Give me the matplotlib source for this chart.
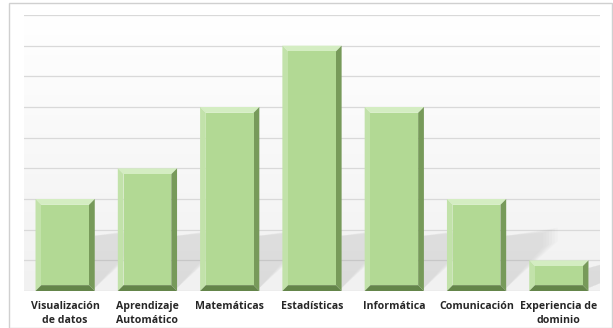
import matplotlib.pyplot as plt
import numpy as np
from matplotlib.patches import Polygon, Rectangle

categorias = ["Visualización\nde datos", "Aprendizaje\nAutomático", "Matemáticas",
              "Estadísticas", "Informática", "Comunicación", "Experiencia de\ndominio"]
valores = [3, 4, 6, 8, 6, 3, 1]

cara = "#b2d994"
borde_sup = "#d4edc2"
borde_izq = "#c2e2aa"
borde_der = "#779a5a"
borde_inf = "#64854a"

fig = plt.figure(figsize=(6.13, 3.28), dpi=100)
fig.patch.set_facecolor("white")
# marco del gráfico
fig.patches.append(Rectangle((9 / 613, 0), 603 / 613, 325 / 328, transform=fig.transFigure,
                             fill=False, edgecolor="#d0d0d0", lw=1))

ax = fig.add_axes([24 / 613, 37 / 328, 576 / 613, 276 / 328])
ax.set_xlim(-0.5, len(valores) - 0.5)
ax.set_ylim(0, 9)

# fondo con degradado suave hacia abajo
grad = np.linspace(0.91, 1.0, 256).reshape(-1, 1) ** 0.6
ax.imshow(np.dstack([grad] * 3), extent=(-0.5, len(valores) - 0.5, 0, 9), aspect="auto",
          origin="lower", zorder=0, vmin=0, vmax=1)

for y in range(10):
    ax.axhline(y, color="#d9d9d9", lw=0.9, zorder=1)

ancho = 0.72
bx, by = 0.07, 0.19
for i, v in enumerate(valores):
    x0, x1 = i - ancho / 2, i + ancho / 2
    # sombra difusa hacia arriba a la derecha
    h = min(v, 2.4)
    for k in range(6):
        d = 0.035 * k
        ax.add_patch(Polygon([(x1, 0.1), (x1 + 0.45 + d, h * 0.6 + d),
                              (x1 + 0.45 + d, h * 0.6 + 0.45 + d),
                              (x1, h * 0.75)],
                             closed=True, facecolor="#8f8f8f", edgecolor="none",
                             alpha=0.035, zorder=1.5))
    # biseles
    ax.add_patch(Polygon([(x0, v), (x1, v), (x1 - bx, v - by), (x0 + bx, v - by)],
                         facecolor=borde_sup, edgecolor="none", zorder=2))
    ax.add_patch(Polygon([(x0, 0), (x0, v), (x0 + bx, v - by), (x0 + bx, by)],
                         facecolor=borde_izq, edgecolor="none", zorder=2))
    ax.add_patch(Polygon([(x1, 0), (x1, v), (x1 - bx, v - by), (x1 - bx, by)],
                         facecolor=borde_der, edgecolor="none", zorder=2))
    ax.add_patch(Polygon([(x0, 0), (x1, 0), (x1 - bx, by), (x0 + bx, by)],
                         facecolor=borde_inf, edgecolor="none", zorder=2))
    ax.add_patch(Rectangle((x0 + bx, by), ancho - 2 * bx, v - 2 * by,
                           facecolor=cara, edgecolor="none", zorder=2))

ax.set_xticks(range(len(categorias)))
ax.set_xticklabels(categorias, fontsize=7.6, fontweight="bold", color="#262626",
                   family="Open Sans", linespacing=1.45)
ax.tick_params(axis="x", length=0, pad=7)
ax.set_yticks([])
for s in ax.spines.values():
    s.set_visible(False)

plt.savefig("out.png", dpi=100)
